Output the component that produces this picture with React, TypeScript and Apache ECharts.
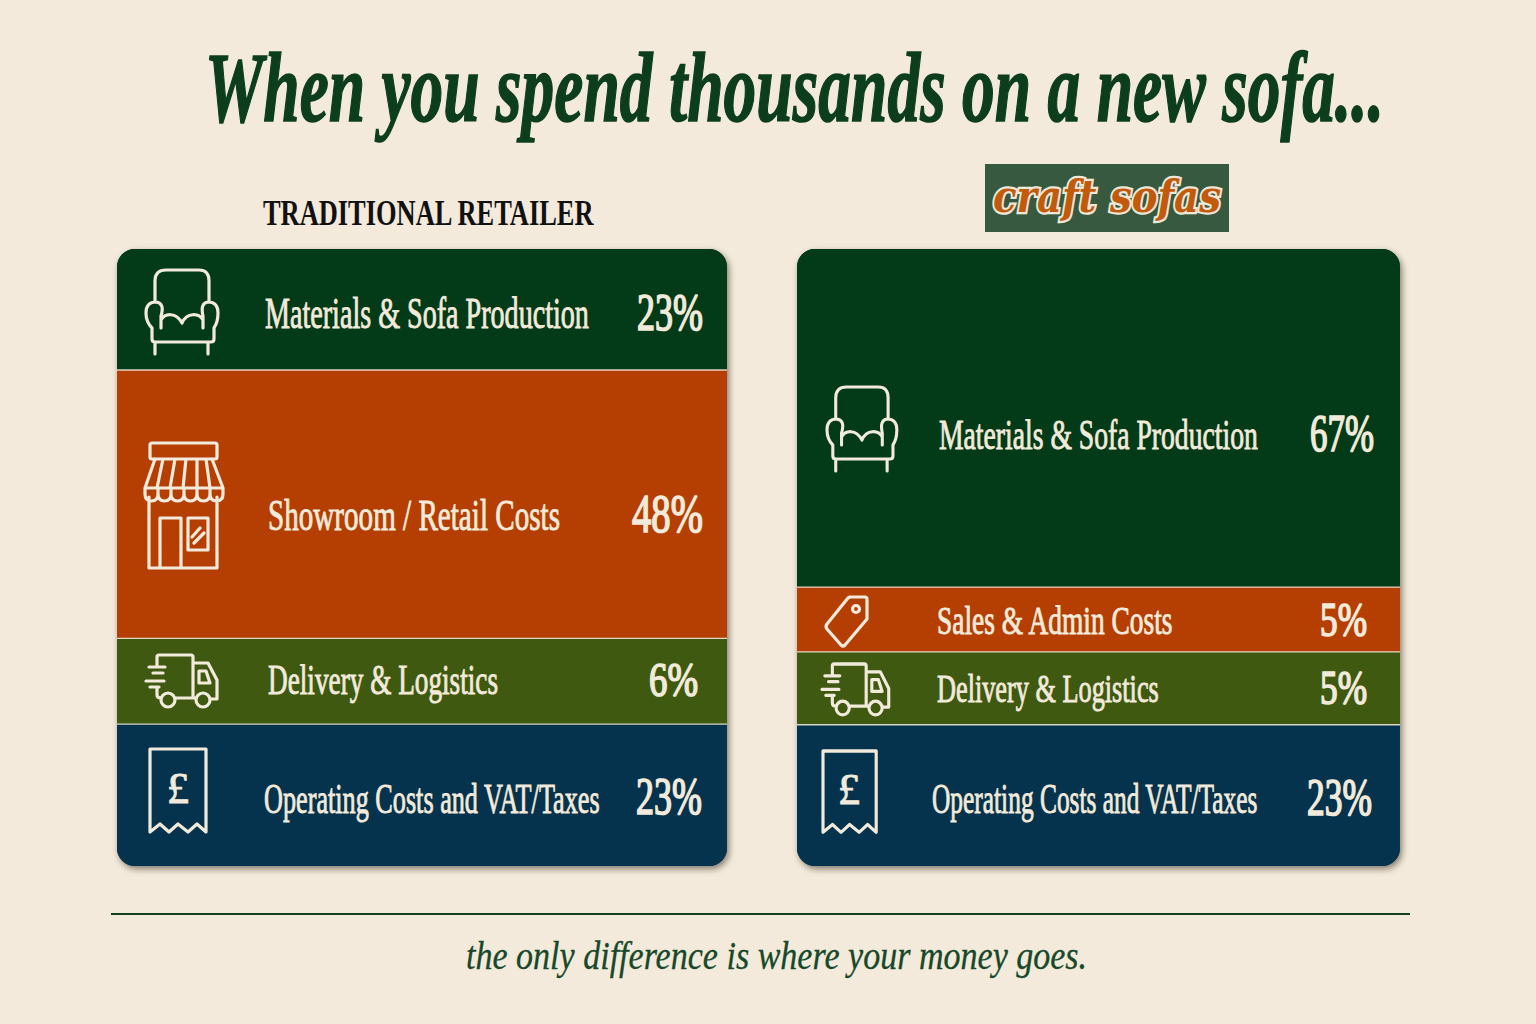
import React, { useEffect, useRef } from "react";
import * as echarts from "echarts";

// ---- data ----
const retailerCategories = ["Materials & Sofa Production", "Showroom / Retail Costs", "Delivery & Logistics", "Operating Costs and VAT/Taxes"];
const retailerPercents = [23, 48, 6, 23];
// The drawn bands are not proportional to the printed percentages: share of the card height as pictured
const retailerBandShares = [19.6, 43.5, 13.9, 23.0];

const craftCategories = ["Materials & Sofa Production", "Sales & Admin Costs", "Delivery & Logistics", "Operating Costs and VAT/Taxes"];
const craftPercents = [67, 5, 5, 23];
const craftBandShares = [54.8, 10.5, 11.8, 22.9];

const titleText = "When you spend thousands on a new sofa...";
const leftHeading = "TRADITIONAL RETAILER";
const logoText = "craft sofas";
const captionText = "the only difference is where your money goes.";

// ---- styles and layout ----
const BG = "#f3eadb";
const CREAM = "#f2eadb";
const SERIF = '"Liberation Serif", serif';
const retailerColors = ["#033a17", "#b53f02", "#3f5a10", "#05324c"];
const craftColors = ["#033a17", "#b53f02", "#3f5a10", "#05324c"];

const retailerIcons = ["chair", "shop", "truck", "receipt"];
const craftIcons = ["chair", "tag", "truck", "receipt"];

type Row = { nx: number; nw: number; ny: number; nf: number; px: number; pw: number; py: number; pf: number };
const retailerLayout: Row[] = [
  { nx: 265, nw: 324, ny: 313, nf: 44, px: 637, pw: 66, py: 313, pf: 52 },
  { nx: 268, nw: 292, ny: 515, nf: 44, px: 632, pw: 71, py: 514, pf: 54 },
  { nx: 268, nw: 230, ny: 680, nf: 42, px: 649, pw: 49, py: 680, pf: 48 },
  { nx: 264, nw: 336, ny: 799, nf: 42, px: 636, pw: 66, py: 797, pf: 52 },
];
const craftLayout: Row[] = [
  { nx: 939, nw: 319, ny: 435, nf: 42, px: 1310, pw: 64, py: 434, pf: 52 },
  { nx: 937, nw: 237, ny: 620, nf: 40, px: 1320, pw: 47, py: 619, pf: 48 },
  { nx: 937, nw: 222, ny: 688, nf: 40, px: 1320, pw: 47, py: 687, pf: 48 },
  { nx: 932, nw: 326, ny: 799, nf: 42, px: 1307, pw: 65, py: 797, pf: 52 },
];

// Icon outlines, in page pixels of where each one sits on the left card
const chairPath =
  "M155 301V281Q155 270 166 270H199Q209 270 209 281V301" +
  "M152 328Q146 322 146 313Q146 302 156 302Q165 303 161 316V328" +
  "M161 320C165 313 176 312 182 323C187 312 199 313 203 320" +
  "M203 328V316Q200 303 208 302Q218 302 218 313Q218 322 214 328" +
  "M152 328V339Q152 342 155 342H211Q214 342 214 339V328" +
  "M155 342V354M208 342V354";
const shopPath =
  "M152 443H215Q217 443 217 445V457Q217 459 215 459H152Q150 459 150 457V445Q150 443 152 443Z" +
  "M155 459L145 488H223L212 459" +
  "M163 459L157 488M175 459L170 488M186 459L183 488M197 459V488M206 459L210 488" +
  "M145 488V494Q145 501 151.500 501Q158 501 158 494V488" +
  "M158 494Q158 501 164.500 501Q171 501 171 494V488" +
  "M171 494Q171 501 177.500 501Q184 501 184 494V488" +
  "M184 494Q184 501 190.500 501Q197 501 197 494V488" +
  "M197 494Q197 501 203.500 501Q210 501 210 494V488" +
  "M210 494Q210 501 216.500 501Q223 501 223 494V488" +
  "M149 497V568H217V497" +
  "M160 568V518H181V568" +
  "M188 518H208V550H188Z" +
  "M192 537L200 528M194 543L204 533";
const truckPath =
  "M157 667V657Q157 655 159 655H191Q193 655 193 657V698" +
  "M149 667H165M153 673H163M146 681H164M150 687H159" +
  "M157 687V695Q157 698 161 698" +
  "M175 698H196" +
  "M193 663H208L217 680V699H210" +
  "M199 671H206L210 683H199Z" +
  "M175 700A7 7 0 1 1 161 700A7 7 0 1 1 175 700Z" +
  "M210 700A7 7 0 1 1 196 700A7 7 0 1 1 210 700Z";
const receiptPath = "M150 832V749H206V832L197 824L188 832L178 824L169 832L160 824Z";
const tagPath =
  "M850 597H865Q867 597 867 599V619L845 645Q843 647 841 645L827 629Q825 627 827 624L848 598Z" +
  "M859.500 609A3.500 3.500 0 1 1 852.500 609A3.500 3.500 0 1 1 859.500 609Z";

const iconPaths: Record<string, string> = { chair: chairPath, shop: shopPath, truck: truckPath, receipt: receiptPath, tag: tagPath };
// anchor of the icon's scaling and where it goes on each card
const iconPlacement: Record<string, Record<string, { ax: number; ay: number; x: number; y: number; sx: number; sy: number }>> = {
  left: {
    chair: { ax: 0, ay: 0, x: 0, y: 0, sx: 1, sy: 1 },
    shop: { ax: 0, ay: 0, x: 0, y: 0, sx: 1, sy: 1 },
    truck: { ax: 0, ay: 0, x: 0, y: 0, sx: 1, sy: 1 },
    receipt: { ax: 0, ay: 0, x: 0, y: 0, sx: 1, sy: 1 },
  },
  right: {
    chair: { ax: 146, ay: 269, x: 827, y: 386, sx: 0.97, sy: 1 },
    tag: { ax: 0, ay: 0, x: 0, y: 0, sx: 1, sy: 1 },
    truck: { ax: 146, ay: 655, x: 822, y: 664, sx: 0.94, sy: 0.98 },
    receipt: { ax: 150, ay: 749, x: 823, y: 751, sx: 0.95, sy: 0.98 },
  },
};

Object.keys(iconPaths).forEach((k) => {
  echarts.graphic.registerShape("icon-" + k, echarts.graphic.extendPath(iconPaths[k], {}) as any);
});

const ctx = document.createElement("canvas").getContext("2d")!;
function fit(text: string, font: string, target: number) {
  ctx.font = font;
  return target / ctx.measureText(text).width;
}

function fittedText(text: string, x: number, y: number, width: number, size: number, weight: string, italic: boolean, fill: string, extra: any = {}) {
  const fontStyle = italic ? "italic" : "normal";
  const fam = extra.fontFamily || SERIF;
  const scale = fit(text, `${fontStyle} ${weight} ${size}px ${fam}`, width);
  const { fontFamily, ...rest } = extra;
  return {
    type: "text",
    x,
    y,
    scaleX: scale,
    style: { text, fontFamily: fam, fontSize: size, fontWeight: weight, fontStyle, fill, align: "left", verticalAlign: "middle", ...rest },
  };
}

function card(side: string, gridIndex: number, names: string[], percents: number[], shares: number[], colors: string[], icons: string[], layout: Row[]) {
  const bars = names.map((name, i) => ({
    type: "bar",
    name,
    stack: side,
    xAxisIndex: gridIndex,
    yAxisIndex: gridIndex,
    barWidth: "100%",
    data: [shares[i]],
    itemStyle: {
      color: colors[i],
      borderRadius: i === 0 ? [18, 18, 0, 0] : i === names.length - 1 ? [0, 0, 18, 18] : 0,
    },
    emphasis: { disabled: true },
  }));
  let cum = 0;
  const rows = shares.map((s, i) => {
    const row = [0, cum + s, i];
    cum += s;
    return row;
  });
  const overlay = {
    type: "custom",
    name: side + " labels",
    xAxisIndex: gridIndex,
    yAxisIndex: gridIndex,
    z: 5,
    clip: false,
    silent: true,
    encode: { x: 0, y: 1 },
    data: rows,
    renderItem: (params: any, api: any) => {
      const i = api.value(2) as number;
      const bottom = api.coord([0, api.value(1)])[1];
      const cs = params.coordSys;
      const L = layout[i];
      const icon = icons[i];
      const p = iconPlacement[side][icon];
      const children: any[] = [];
      if (i < names.length - 1) {
        children.push({
          type: "line",
          shape: { x1: cs.x, y1: bottom, x2: cs.x + cs.width, y2: bottom },
          style: { stroke: "#efe6d6", lineWidth: 1.4, opacity: 0.9 },
        });
      }
      children.push({
        type: "icon-" + icon,
        originX: 0,
        originY: 0,
        x: p.x - p.ax * p.sx,
        y: p.y - p.ay * p.sy,
        scaleX: p.sx,
        scaleY: p.sy,
        style: { fill: "none", stroke: CREAM, lineWidth: 3.2, strokeNoScale: true, lineCap: "round", lineJoin: "round" },
      });
      if (icon === "receipt") {
        children.push({
          type: "text",
          x: side === "left" ? 178 : 849,
          y: side === "left" ? 788 : 789,
          style: { text: "£", fontFamily: SERIF, fontSize: 44, fill: CREAM, stroke: CREAM, lineWidth: 1, align: "center", verticalAlign: "middle" },
        });
      }
      children.push(fittedText(names[i], L.nx, L.ny, L.nw, L.nf, "normal", false, CREAM, { stroke: CREAM, lineWidth: 0.9 }));
      const pct = percents[i] + "%";
      children.push(fittedText(pct, L.px, L.py, L.pw, L.pf, "normal", false, CREAM, { stroke: CREAM, lineWidth: 1.7 }));
      return { type: "group", children };
    },
  };
  return [...bars, overlay];
}

export default function App() {
  const ref = useRef<HTMLDivElement>(null);
  useEffect(() => {
    document.body.style.margin = "0";
    document.body.style.background = BG;
    const chart = echarts.init(ref.current!, null, { renderer: "svg" });
    const axisOff = { show: false };
    chart.setOption({
      animation: false,
      backgroundColor: BG,
      grid: [
        { left: 117, top: 249, width: 610, height: 617 },
        { left: 797, top: 249, width: 603, height: 617 },
      ],
      xAxis: [
        { type: "category", gridIndex: 0, data: ["Traditional retailer"], ...axisOff },
        { type: "category", gridIndex: 1, data: ["Craft Sofas"], ...axisOff },
      ],
      yAxis: [
        { type: "value", gridIndex: 0, min: 0, max: 100, inverse: true, ...axisOff },
        { type: "value", gridIndex: 1, min: 0, max: 100, inverse: true, ...axisOff },
      ],
      graphic: [
        { type: "rect", z: -1, shape: { x: 117, y: 249, width: 610, height: 617, r: 18 }, style: { fill: "#05324c", shadowBlur: 6, shadowOffsetX: 2, shadowOffsetY: 3, shadowColor: "rgba(40,30,15,0.55)" } },
        { type: "rect", z: -1, shape: { x: 797, y: 249, width: 603, height: 617, r: 18 }, style: { fill: "#05324c", shadowBlur: 6, shadowOffsetX: 2, shadowOffsetY: 3, shadowColor: "rgba(40,30,15,0.55)" } },
        fittedText(titleText, 205, 87, 1180, 100, "bold", true, "#0c3d1d", { stroke: "#0c3d1d", lineWidth: 1.6 }),
        fittedText(leftHeading, 263, 213, 332, 36, "bold", false, "#111111"),
        { type: "rect", shape: { x: 985, y: 164, width: 244, height: 68 }, style: { fill: "#37593f" } },
        fittedText(logoText, 993, 197, 228, 44, "bold", true, "#c25a0c", { fontFamily: '"DejaVu Serif", serif', stroke: "#efe8d8", lineWidth: 4.5 }),
        { type: "line", shape: { x1: 111, y1: 914, x2: 1410, y2: 914 }, style: { stroke: "#12401f", lineWidth: 2 } },
        fittedText(captionText, 466, 956, 621, 40, "normal", true, "#17482a", { stroke: "#17482a", lineWidth: 0.3 }),
      ],
      series: [
        ...card("left", 0, retailerCategories, retailerPercents, retailerBandShares, retailerColors, retailerIcons, retailerLayout),
        ...card("right", 1, craftCategories, craftPercents, craftBandShares, craftColors, craftIcons, craftLayout),
      ],
    });
    return () => chart.dispose();
  }, []);
  return (
    <>
      <style>{"svg text { paint-order: stroke; }"}</style>
      <div ref={ref} style={{ width: 1536, height: 1024 }} />
    </>
  );
}
